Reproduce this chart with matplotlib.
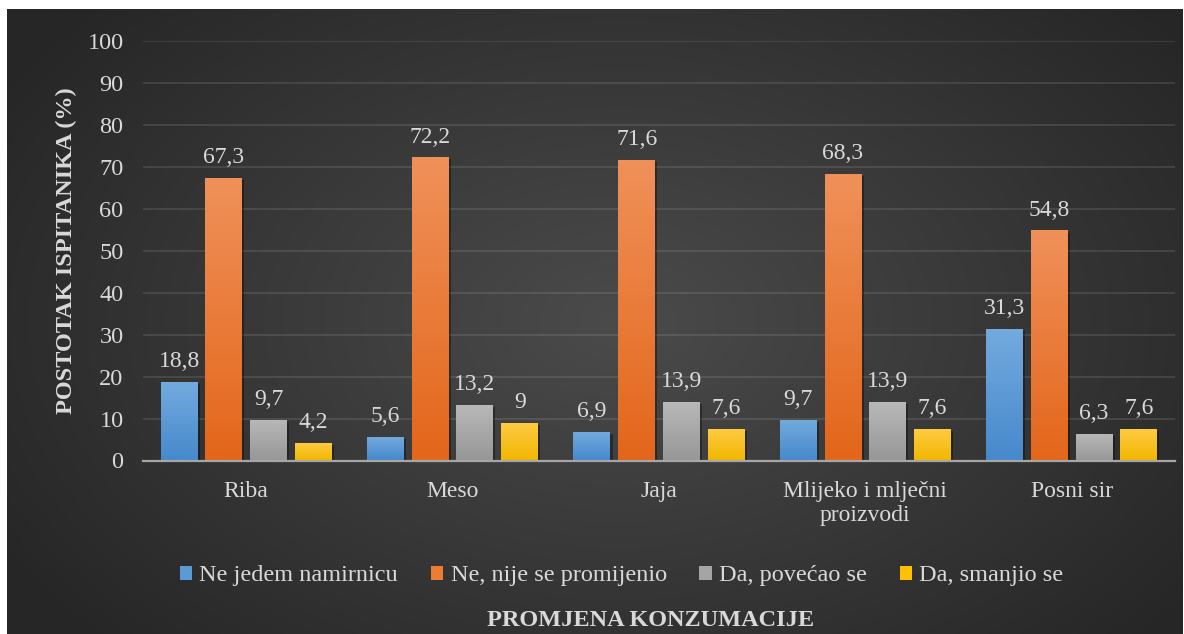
import numpy as np
import matplotlib
matplotlib.use("Agg")
import matplotlib.pyplot as plt
from matplotlib.colors import LinearSegmentedColormap, to_rgb
import matplotlib.patheffects as pe

categories = ["Riba", "Meso", "Jaja", "Mlijeko i mlječni\nproizvodi", "Posni sir"]
series_names = ["Ne jedem namirnicu", "Ne, nije se promijenio", "Da, povećao se", "Da, smanjio se"]
ne_jedem = [18.8, 5.6, 6.9, 9.7, 31.3]
nije_promijenio = [67.3, 72.2, 71.6, 68.3, 54.8]
povecao = [9.7, 13.2, 13.9, 13.9, 6.3]
smanjio = [4.2, 9.0, 7.6, 7.6, 7.6]
value_labels = [
    ["18,8", "5,6", "6,9", "9,7", "31,3"],
    ["67,3", "72,2", "71,6", "68,3", "54,8"],
    ["9,7", "13,2", "13,9", "13,9", "6,3"],
    ["4,2", "9", "7,6", "7,6", "7,6"],
]
yticks = [0, 10, 20, 30, 40, 50, 60, 70, 80, 90, 100]
y_label = "POSTOTAK ISPITANIKA (%)"
x_label = "PROMJENA KONZUMACIJE"

series = [ne_jedem, nije_promijenio, povecao, smanjio]
# (top colour, bottom colour) of the vertical gradient
grad_colors = [("#74abde", "#4689cc"), ("#f0915a", "#e3661a"),
               ("#b9b9b9", "#979797"), ("#ffcb45", "#f2b700")]
base_colors = ["#5b9bd5", "#ed7d31", "#a5a5a5", "#ffc000"]

plt.rcParams['font.family'] = ['Liberation Serif', 'DejaVu Serif']
txt = "#d9d9d9"

W, H = 1184, 634
fig = plt.figure(figsize=(W / 100, H / 100), dpi=100)
fig.patch.set_facecolor("white")

# background panel with radial gradient
bg = fig.add_axes([7 / W, 0, 1176 / W, 625 / H])
bg.set_axis_off()
nx, ny = 400, 220
xx, yy = np.meshgrid(np.linspace(0, 1, nx), np.linspace(0, 1, ny))
r = np.sqrt(((xx - 0.52) / 0.62) ** 2 + ((yy - 0.5) / 0.75) ** 2)
r = np.clip(r, 0, 1)
c_in = np.array(to_rgb("#4b4b4b"))
c_out = np.array(to_rgb("#262626"))
img = c_in[None, None, :] * (1 - r[..., None]) + c_out[None, None, :] * r[..., None]
bg.imshow(img, aspect="auto", extent=[0, 1, 0, 1], origin="lower")
bg.set_xlim(0, 1)
bg.set_ylim(0, 1)

ax = fig.add_axes([143 / W, (H - 460.5) / H, 1032 / W, 419.8 / H])
ax.patch.set_alpha(0)

x = np.arange(len(categories))
pitch = 0.2165
width = 0.179
offsets = (np.arange(len(series)) - (len(series) - 1) / 2) * pitch

grad = np.linspace(0, 1, 256).reshape(-1, 1)
for i, (vals, (ctop, cbot), base) in enumerate(zip(series, grad_colors, base_colors)):
    bars = ax.bar(x + offsets[i], vals, width, color=base, label=series_names[i], zorder=3,
                  linewidth=0)
    cmap = LinearSegmentedColormap.from_list(f"g{i}", [cbot, ctop])
    for b, lab in zip(bars, value_labels[i]):
        b.set_path_effects([pe.SimplePatchShadow(offset=(1.5, -1.5), shadow_rgbFace="black", alpha=0.35),
                            pe.Normal()])
        bx, by, bw, bh = b.get_x(), b.get_y(), b.get_width(), b.get_height()
        im = ax.imshow(grad, cmap=cmap, aspect="auto", origin="lower",
                       extent=[bx, bx + bw, by, by + bh], zorder=4)
        im.set_clip_path(b)
        ax.annotate(lab, (bx + bw / 2, by + bh), xytext=(0, 7), textcoords="offset points",
                    ha="center", va="bottom", fontsize=17, color=txt, zorder=5)

ax.set_xlim(-0.5, len(categories) - 0.5)
ax.set_ylim(0, 100)
ax.set_yticks(yticks)
ax.set_yticklabels([str(t) for t in yticks])
ax.set_xticks(x)
ax.set_xticklabels(categories, linespacing=1.15)
ax.tick_params(axis="y", length=0, pad=14, labelsize=17.5, labelcolor=txt)
ax.tick_params(axis="x", length=0, pad=15, labelsize=17, labelcolor=txt)
ax.yaxis.grid(True, color="white", alpha=0.1, linewidth=1.5, zorder=0)
ax.set_axisbelow(True)
for s in ["top", "right", "left"]:
    ax.spines[s].set_visible(False)
ax.spines["bottom"].set_color("#a6a6a6")
ax.spines["bottom"].set_linewidth(1.6)
ax.spines["bottom"].set_zorder(6)

ax.set_ylabel(y_label, fontsize=17.5, fontweight="bold", color=txt, va="center")
ax.yaxis.set_label_coords(-0.074, 0.5)
ax.set_xlabel(x_label, fontsize=17.5, fontweight="bold", color=txt, va="center")
ax.xaxis.set_label_coords(0.492, -0.38)

handles, labels = ax.get_legend_handles_labels()
leg = fig.legend(handles, labels, loc="center", bbox_to_anchor=(0.525, (H - 576) / H), ncol=4,
                 frameon=False, fontsize=17.5, handlelength=0.5, handleheight=0.5,
                 handletextpad=0.3, columnspacing=1.35, labelcolor=txt)
for h in leg.legend_handles:
    h.set_path_effects([])

fig.savefig("out.png", dpi=100, facecolor=fig.get_facecolor())
